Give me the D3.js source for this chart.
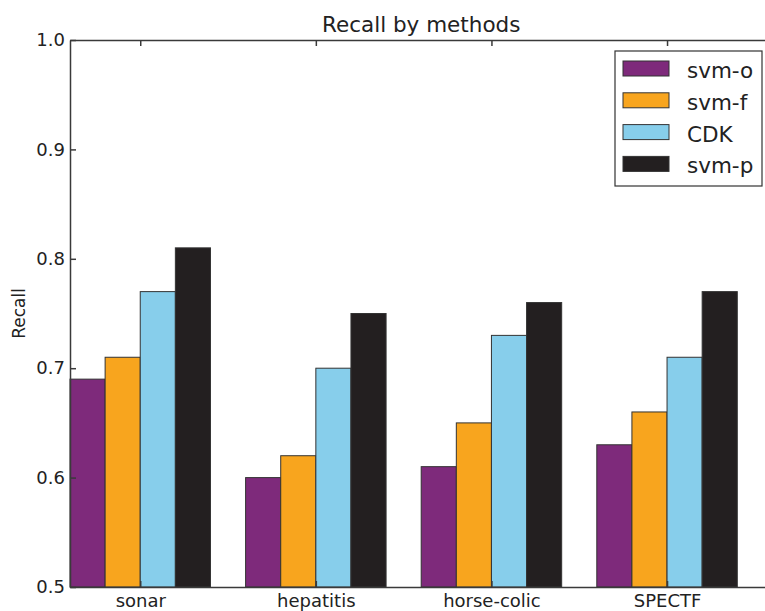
<!DOCTYPE html>
<html>
<head>
<meta charset="utf-8">
<script src="https://cdn.jsdelivr.net/npm/d3@7"></script>
<style>
  body { margin: 0; background: #fff; }
  text { font-family: "DejaVu Sans", sans-serif; fill: #222; }
</style>
</head>
<body>
<svg id="chart" width="765" height="611"></svg>
<script>
// data
const categories = ["sonar", "hepatitis", "horse-colic", "SPECTF"];
const methods = ["svm-o", "svm-f", "CDK", "svm-p"];
const svmO = [0.69, 0.60, 0.61, 0.63];
const svmF = [0.71, 0.62, 0.65, 0.66];
const cdk  = [0.77, 0.70, 0.73, 0.71];
const svmP = [0.81, 0.75, 0.76, 0.77];
const yTicks = [0.5, 0.6, 0.7, 0.8, 0.9, 1.0];

const colors = ["#7e2a7b", "#f8a51e", "#87ceeb", "#231f20"];
const series = [svmO, svmF, cdk, svmP];

const CHART_WIDTH = 765;
const CHART_HEIGHT = 611;
const MARGIN = { left: 70, top: 40, bottom: 24 };
const PLOT_RIGHT = 772.4;   // right spine sits just past the picture edge
const BAR_W = 0.2;
const TICK = 6;

let svg = d3.select("#chart");

let xScale = d3.scaleLinear()
  .domain([0, categories.length])
  .range([MARGIN.left, PLOT_RIGHT]);

let yScale = d3.scaleLinear()
  .domain([0.5, 1.0])
  .range([CHART_HEIGHT - MARGIN.bottom, MARGIN.top]);

// bars
series.forEach(function (vals, j) {
  svg.append("g")
    .selectAll("rect")
    .data(vals)
    .join("rect")
    .attr("x", (d, i) => xScale(i + j * BAR_W))
    .attr("y", d => yScale(d))
    .attr("width", xScale(BAR_W) - xScale(0))
    .attr("height", d => yScale(0.5) - yScale(d))
    .attr("fill", colors[j])
    .attr("stroke", "#333")
    .attr("stroke-width", 1);
});

// axes, ticks pointing inward like matplotlib classic
const axisColor = "#3a3a3a";
const centers = categories.map((c, i) => i + 2 * BAR_W);

let yAxis = svg.append("g")
  .attr("transform", `translate(${MARGIN.left},0)`)
  .call(d3.axisLeft(yScale).tickValues(yTicks).tickFormat(d3.format(".1f"))
    .tickSizeInner(-TICK).tickSizeOuter(0).tickPadding(5));
yAxis.selectAll("text").style("font-size", "18px").attr("fill", "#222");

let xAxis = svg.append("g")
  .attr("transform", `translate(0,${yScale(0.5)})`)
  .call(d3.axisBottom(xScale).tickValues(centers).tickFormat((d, i) => categories[i])
    .tickSizeInner(-TICK).tickSizeOuter(0).tickPadding(0));
xAxis.selectAll("text").style("font-size", "18px").attr("fill", "#222")
  .attr("y", 20).attr("dy", 0);

let topAxis = svg.append("g")
  .attr("transform", `translate(0,${yScale(1.0)})`)
  .call(d3.axisTop(xScale).tickValues(centers).tickFormat("")
    .tickSizeInner(-TICK).tickSizeOuter(0));

svg.selectAll(".domain, .tick line")
  .attr("stroke", axisColor)
  .attr("stroke-width", 1.5);

// title + y label
svg.append("text")
  .attr("x", (MARGIN.left + PLOT_RIGHT) / 2)
  .attr("y", 32)
  .attr("text-anchor", "middle")
  .style("font-size", "21.5px")
  .text("Recall by methods");

svg.append("text")
  .attr("transform", `translate(25,${(yScale(0.5) + yScale(1.0)) / 2}) rotate(-90)`)
  .attr("text-anchor", "middle")
  .style("font-size", "17px")
  .text("Recall");

// legend
let legend = svg.append("g").attr("transform", "translate(615,51)");
legend.append("rect")
  .attr("width", 147).attr("height", 135)
  .attr("fill", "#fff").attr("stroke", "#333").attr("stroke-width", 1.2);

let rows = legend.selectAll(".row")
  .data(methods)
  .join("g")
  .attr("class", "row")
  .attr("transform", (d, i) => `translate(8,${10 + i * 31.8})`);

rows.append("rect")
  .attr("width", 46).attr("height", 15)
  .attr("fill", (d, i) => colors[i])
  .attr("stroke", "#333").attr("stroke-width", 1);

rows.append("text")
  .attr("x", 64).attr("y", 17)
  .style("font-size", "21.5px")
  .text(d => d);
</script>
</body>
</html>
